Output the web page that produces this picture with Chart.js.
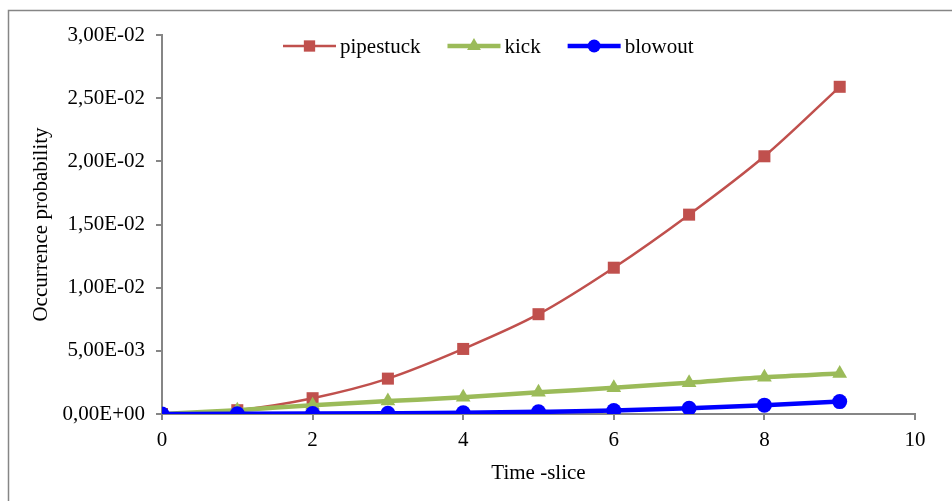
<!DOCTYPE html>
<html>
<head>
<meta charset="utf-8">
<script src="https://cdn.jsdelivr.net/npm/chart.js@4.4.1/dist/chart.umd.min.js"></script>
<style>
  html, body { margin: 0; padding: 0; background: #fff; }
  #wrap { width: 952px; height: 501px; position: relative; }
</style>
</head>
<body>
<div id="wrap"><canvas id="c" width="952" height="501"></canvas></div>
<script>
// Time slices and occurrence probabilities per event
const timeSlices = [0, 1, 2, 3, 4, 5, 6, 7, 8, 9];
const pipestuck = [0, 0.0003, 0.00125, 0.0028, 0.00515, 0.0079, 0.01158, 0.01578, 0.0204, 0.0259];
const kick      = [0, 0.0003, 0.0007, 0.00102, 0.00132, 0.00172, 0.00207, 0.00248, 0.0029, 0.0032];
const blowout   = [0, 0.00001, 0.00003, 0.00006, 0.0001, 0.00017, 0.00027, 0.00046, 0.0007, 0.00098];

const seriesNames = ['pipestuck', 'kick', 'blowout'];
const yTickStep = 0.005;
const yMax = 0.03;
const xMax = 10;
const xTickStep = 2;

const SERIF = '"Liberation Serif", "Times New Roman", serif';
const FONT_SIZE = 21;
const AXIS_GREY = '#868686';

function toPoints(vals) {
  return vals.map((v, i) => ({ x: timeSlices[i], y: v }));
}

// Excel style scientific label: 2,50E-02
function sciLabel(v) {
  if (v === 0) return '0,00E+00';
  const [m, e] = v.toExponential(2).split('e');
  const n = parseInt(e, 10);
  const sign = n < 0 ? '-' : '+';
  const mag = String(Math.abs(n)).padStart(2, '0');
  return m.replace('.', ',') + 'E' + sign + mag;
}

// Frame around the whole chart
const framePlugin = {
  id: 'frame',
  beforeDraw(chart) {
    const ctx = chart.ctx;
    ctx.save();
    ctx.strokeStyle = AXIS_GREY;
    ctx.lineWidth = 1.5;
    ctx.strokeRect(8.5, 10.5, chart.width + 20, chart.height + 20);
    ctx.restore();
  }
};

// Draws one marker shape, same geometry as the point styles on the lines
function marker(ctx, style, r, cx, cy) {
  ctx.beginPath();
  if (style === 'rect') {
    const s = r * Math.SQRT1_2;
    ctx.rect(cx - s, cy - s, 2 * s, 2 * s);
  } else if (style === 'triangle') {
    ctx.moveTo(cx, cy - r);
    ctx.lineTo(cx + r * 0.866, cy + r * 0.5);
    ctx.lineTo(cx - r * 0.866, cy + r * 0.5);
    ctx.closePath();
  } else {
    ctx.arc(cx, cy, r, 0, Math.PI * 2);
  }
  ctx.fill();
}

// Legend drawn as line + marker samples on one row
const lineLegendPlugin = {
  id: 'lineLegend',
  afterDraw(chart) {
    const ctx = chart.ctx;
    ctx.save();
    ctx.font = FONT_SIZE + 'px ' + SERIF;
    ctx.textBaseline = 'middle';
    let x = 283;
    const y = 46;
    const sample = 53;
    chart.data.datasets.slice().sort((a, b) => a.legendIndex - b.legendIndex).forEach(ds => {
      ctx.strokeStyle = ds.borderColor;
      ctx.lineWidth = ds.borderWidth;
      ctx.beginPath();
      ctx.moveTo(x, y);
      ctx.lineTo(x + sample, y);
      ctx.stroke();
      ctx.fillStyle = ds.pointBackgroundColor;
      marker(ctx, ds.pointStyle, ds.legendRadius, x + sample / 2, y);
      ctx.fillStyle = '#000';
      ctx.fillText(ds.label, x + sample + 4, y + 1);
      x += sample + 4 + ctx.measureText(ds.label).width + 27;
    });
    ctx.restore();
  }
};

new Chart(document.getElementById('c'), {
  type: 'line',
  data: {
    datasets: [
      {
        label: seriesNames[0],
        legendIndex: 0,
        legendRadius: 8,
        data: toPoints(pipestuck),
        borderColor: '#C0504D',
        backgroundColor: '#C0504D',
        pointBackgroundColor: '#C0504D',
        pointBorderColor: '#C0504D',
        borderWidth: 2.5,
        pointStyle: 'rect',
        pointRadius: 8.5,
        pointBorderWidth: 0,
        cubicInterpolationMode: 'monotone',
        order: 2
      },
      {
        label: seriesNames[1],
        legendIndex: 1,
        legendRadius: 8,
        data: toPoints(kick),
        borderColor: '#9BBB59',
        backgroundColor: '#9BBB59',
        pointBackgroundColor: '#9BBB59',
        pointBorderColor: '#9BBB59',
        borderWidth: 4.5,
        pointStyle: 'triangle',
        pointRadius: 8.5,
        pointBorderWidth: 0,
        cubicInterpolationMode: 'monotone',
        order: 1
      },
      {
        label: seriesNames[2],
        legendIndex: 2,
        legendRadius: 6.5,
        data: toPoints(blowout),
        borderColor: '#0000FF',
        backgroundColor: '#0000FF',
        pointBackgroundColor: '#0000FF',
        pointBorderColor: '#0000FF',
        borderWidth: 4.5,
        pointStyle: 'circle',
        pointRadius: 7.5,
        pointBorderWidth: 0,
        cubicInterpolationMode: 'monotone',
        order: 0
      }
    ]
  },
  options: {
    responsive: false,
    animation: false,
    events: [],
    layout: { padding: { top: 35, right: 37, left: 0, bottom: 0 } },
    plugins: {
      legend: { display: false },
      tooltip: { enabled: false }
    },
    scales: {
      x: {
        type: 'linear',
        min: 0,
        max: xMax,
        afterFit(scale) { scale.height = 87; },
        border: { display: true, color: AXIS_GREY, width: 2 },
        grid: { display: true, drawOnChartArea: false, drawTicks: true, tickLength: 6, color: AXIS_GREY, lineWidth: 2 },
        ticks: {
          stepSize: xTickStep,
          color: '#000',
          padding: 8,
          maxRotation: 0,
          font: { family: SERIF, size: FONT_SIZE }
        },
        title: {
          display: true,
          text: 'Time -slice',
          color: '#000',
          font: { family: SERIF, size: FONT_SIZE },
          padding: { top: 6, bottom: 15 }
        }
      },
      y: {
        min: 0,
        max: yMax,
        afterFit(scale) { scale.width = 162; },
        border: { display: true, color: AXIS_GREY, width: 2 },
        grid: { display: true, drawOnChartArea: false, drawTicks: true, tickLength: 6, color: AXIS_GREY, lineWidth: 2 },
        ticks: {
          stepSize: yTickStep,
          color: '#000',
          padding: 11,
          font: { family: SERIF, size: FONT_SIZE },
          callback: v => sciLabel(v)
        },
        title: {
          display: true,
          text: 'Occurrence probability',
          color: '#000',
          font: { family: SERIF, size: FONT_SIZE },
          padding: { top: 29, bottom: 4 }
        }
      }
    }
  },
  plugins: [framePlugin, lineLegendPlugin]
});
</script>
</body>
</html>
